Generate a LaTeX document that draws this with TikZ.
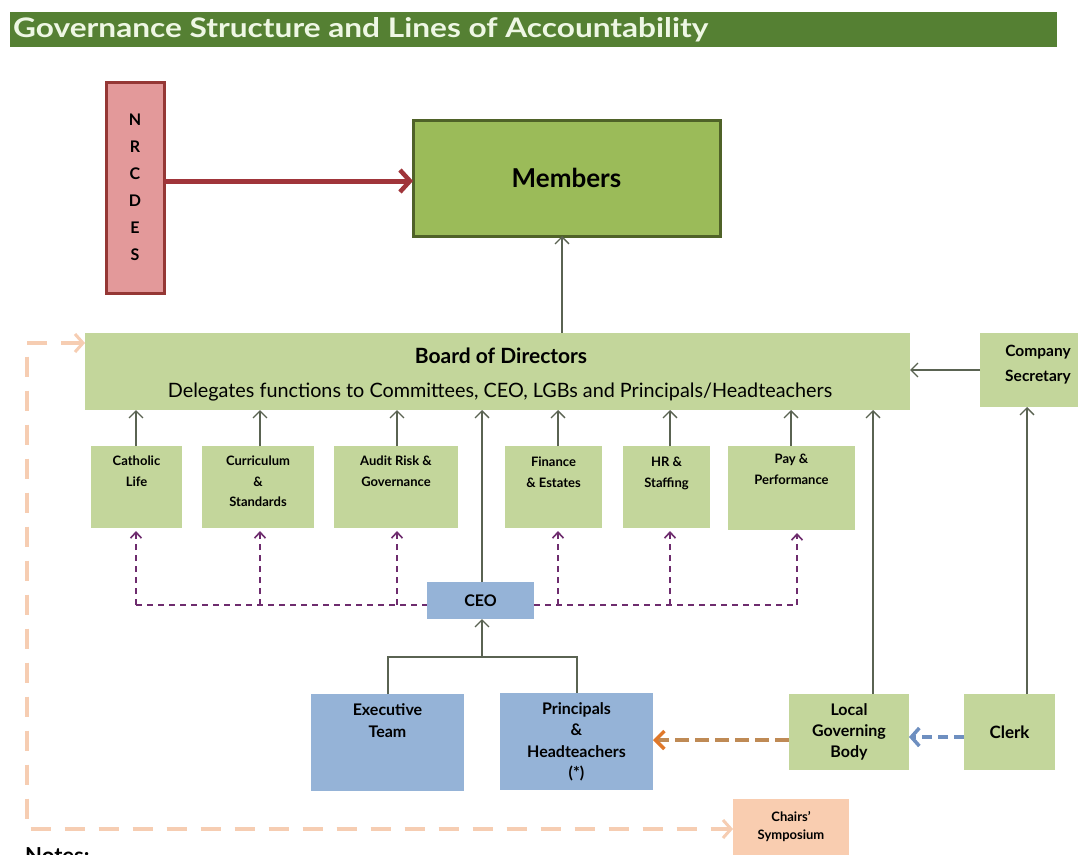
\documentclass[tikz,border=0pt]{standalone}
\usepackage{fontspec}
\setmainfont{Lato}
\usetikzlibrary{arrows.meta}
\definecolor{titlegreen}{HTML}{558033}
\definecolor{titletext}{HTML}{EEF7E4}
\definecolor{memfill}{HTML}{9BBB59}
\definecolor{memdraw}{HTML}{4F6228}
\definecolor{lightgreen}{HTML}{C3D69B}
\definecolor{bluebox}{HTML}{95B3D7}
\definecolor{peach}{HTML}{F9CDB0}
\definecolor{peachline}{HTML}{F6CDB2}
\definecolor{nrcfill}{HTML}{E3999A}
\definecolor{nrcdraw}{HTML}{953735}
\definecolor{bigarrow}{HTML}{A0353A}
\definecolor{linegray}{HTML}{5A6352}
\definecolor{purpledash}{HTML}{6E2C6E}
\definecolor{orangedash}{HTML}{BF8A55}
\definecolor{orangetip}{HTML}{E0782A}
\definecolor{bluedash}{HTML}{6E8FC0}
\begin{document}
\begin{tikzpicture}[x=1pt,y=-1pt,
  boxbase/.style={inner sep=0pt,outer sep=0pt,anchor=north west,align=center},
  gbox/.style={boxbase,fill=lightgreen},
  bbox/.style={boxbase,fill=bluebox},
  cmt/.style={gbox,minimum height=82pt},
  toplbl/.style={anchor=north,align=center,inner sep=0pt},
  clbl/.style={toplbl,font=\bfseries\fontsize{13}{20.5}\selectfont},
  conn/.style={draw=linegray,line width=1.4pt,-{Straight Barb[length=7pt,width=14pt,line width=1.3pt]}},
  purp/.style={draw=purpledash,line width=1.3pt,dash pattern=on 6pt off 5pt},
  purparrow/.style={purp,-{Straight Barb[length=6pt,width=11pt,line width=1.6pt]}},
]
\useasboundingbox (0,0) rectangle (1078,854);
\clip (0,0) rectangle (1078,854);
\fill[white] (0,0) rectangle (1078,854);

% title bar
\node[boxbase,fill=titlegreen,minimum width=1047pt,minimum height=35pt] (title) at (10,12) {};
\node[anchor=west,inner sep=0pt,text=titletext,font=\bfseries] (titletxt) at (13,30)
  {\resizebox{695pt}{20pt}{Governance Structure and Lines of Accountability}};

% NRCDES
\node[boxbase,fill=nrcfill,draw=nrcdraw,line width=3pt,minimum width=58pt,minimum height=211pt,
  font=\bfseries\fontsize{16}{27}\selectfont] (nrc) at (106,82) {N\\R\\C\\D\\E\\S};

% Members
\node[boxbase,fill=memfill,draw=memdraw,line width=3pt,minimum width=307pt,minimum height=116pt,
  font=\bfseries\fontsize{26}{30}\selectfont] (members) at (413,120) {Members};

\draw[draw=bigarrow,line width=5pt,-{Straight Barb[length=10pt,width=22pt,line width=4.5pt]}]
  (nrc.east |- 0,181) -- (members.west |- 0,181);

% Board
\node[gbox,minimum width=825pt,minimum height=77pt] (board) at (85,333) {};
\node[inner sep=0pt,font=\bfseries\fontsize{21}{24}\selectfont] (boardt) at (501,356) {Board of Directors};
\node[inner sep=0pt,font=\fontsize{19.8}{24}\selectfont] (boardd) at (500,392)
  {Delegates functions to Committees, CEO, LGBs and Principals/Headteachers};

% Company secretary
\node[gbox,minimum width=110pt,minimum height=74pt] (cs) at (980,333) {};
\node[toplbl,font=\bfseries\fontsize{15.5}{25}\selectfont] (cstxt) at (1038,345) {Company\\Secretary};

% committees
\node[cmt,minimum width=91pt,label={[clbl,yshift=-10pt]north:{Catholic\\Life}}] (cl) at (91,446) {};
\node[cmt,minimum width=112pt,label={[clbl,yshift=-10pt]north:{Curriculum\\\&\\Standards}}] (cur) at (202,446) {};
\node[cmt,minimum width=124pt,label={[clbl,yshift=-10pt]north:{Audit Risk \&\\Governance}}] (arg) at (334,446) {};
\node[cmt,minimum width=97pt,label={[clbl,yshift=-11pt]north:{Finance\\\& Estates}}] (fe) at (505,446) {};
\node[cmt,minimum width=87pt,label={[clbl,yshift=-11pt]north:{HR \&\\Staffing}}] (hr) at (623,446) {};
\node[cmt,minimum width=127pt,minimum height=84pt,label={[clbl,yshift=-8pt]north:{Pay \&\\Performance}}] (pp) at (728,446) {};

% CEO and below
\node[bbox,minimum width=107pt,minimum height=37pt,font=\bfseries\fontsize{16}{18}\selectfont] (ceo) at (427,582) {CEO};
\node[bbox,minimum width=153pt,minimum height=97pt,
  label={[toplbl,yshift=-9pt,font=\bfseries\fontsize{16}{22}\selectfont]north:{Executive\\Team}}] (exec) at (311,694) {};
\node[bbox,minimum width=153pt,minimum height=97pt,
  label={[toplbl,yshift=-9pt,font=\bfseries\fontsize{16}{21.5}\selectfont]north:{Principals\\\&\\Headteachers\\(*)}}] (prin) at (500,693) {};
\node[gbox,minimum width=120pt,minimum height=76pt,font=\bfseries\fontsize{16}{21}\selectfont] (lgb) at (789,694) {Local\\Governing\\Body};
\node[gbox,minimum width=91pt,minimum height=76pt,font=\bfseries\fontsize{17}{18}\selectfont] (clerk) at (964,694) {Clerk};
\node[boxbase,fill=peach,minimum width=116pt,minimum height=60pt,
  label={[toplbl,yshift=-12pt,font=\bfseries\fontsize{13}{18}\selectfont]north:{Chairs'\\Symposium}}] (chairs) at (733,799) {};

% solid connectors
\draw[conn] (board.north -| 562,0) -- (members.south -| 562,0);
\draw[conn] (cs.west |- 0,370) -- (board.east |- 0,370);
\foreach \n/\x in {cl/136,cur/260,arg/397,fe/558,hr/670,pp/791}{
  \draw[conn] (\n.north -| \x,0) -- (board.south -| \x,0);
}
\draw[conn] (ceo.north -| 482,0) -- (board.south -| 482,0);
\draw[conn] (lgb.north -| 873,0) -- (board.south -| 873,0);
\draw[conn] (clerk.north -| 1027,0) -- (cs.south -| 1027,0);
\coordinate (tree) at (482,657);
\draw[draw=linegray,line width=1.4pt] (exec.north -| 388,0) |- (tree) -| (prin.north -| 577,0);
\draw[conn] (tree) -- (ceo.south -| 482,0);

% purple dashed
\coordinate (pl) at (136,605);
\coordinate (pr) at (797,605);
\draw[purp] (pl) -- (ceo.west |- pl);
\draw[purp] (ceo.east |- pr) -- (pr);
\foreach \n/\x in {cl/136,cur/260,arg/397,fe/558,hr/670}{
  \draw[purparrow] (\x,605) -- ([yshift=-3pt]\n.south -| \x,0);
}
\draw[purparrow] (797,605) -- ([yshift=-3pt]pp.south -| 797,0);

% orange and blue dashed
\draw[draw=orangedash,line width=4pt,dash pattern=on 14pt off 6pt,
  -{Straight Barb[length=9pt,width=18pt,line width=3.5pt,color=orangetip]}]
  (lgb.west |- 0,740) -- (prin.east |- 0,740);
\draw[draw=bluedash,line width=4pt,dash pattern=on 10pt off 6pt,
  -{Straight Barb[length=8pt,width=18pt,line width=3.5pt]}]
  (clerk.west |- 0,737) -- (lgb.east |- 0,737);

% peach dashed loop
\coordinate (pc1) at (27,343);
\coordinate (pc2) at (27,829);
\draw[draw=peachline,line width=3.5pt,dash pattern=on 20pt off 14pt,
  {Straight Barb[length=8pt,width=18pt,line width=3pt]}-{Straight Barb[length=8pt,width=18pt,line width=3pt]}]
  (board.west |- pc1) -- (pc1) -- (pc2) -- (chairs.west |- pc2);

% notes (cut off at the lower edge, as in the reference)
\node[anchor=north west,inner sep=0pt,font=\bfseries\fontsize{22}{24}\selectfont] (notes) at (25,847) {Notes:};
\end{tikzpicture}
\end{document}
